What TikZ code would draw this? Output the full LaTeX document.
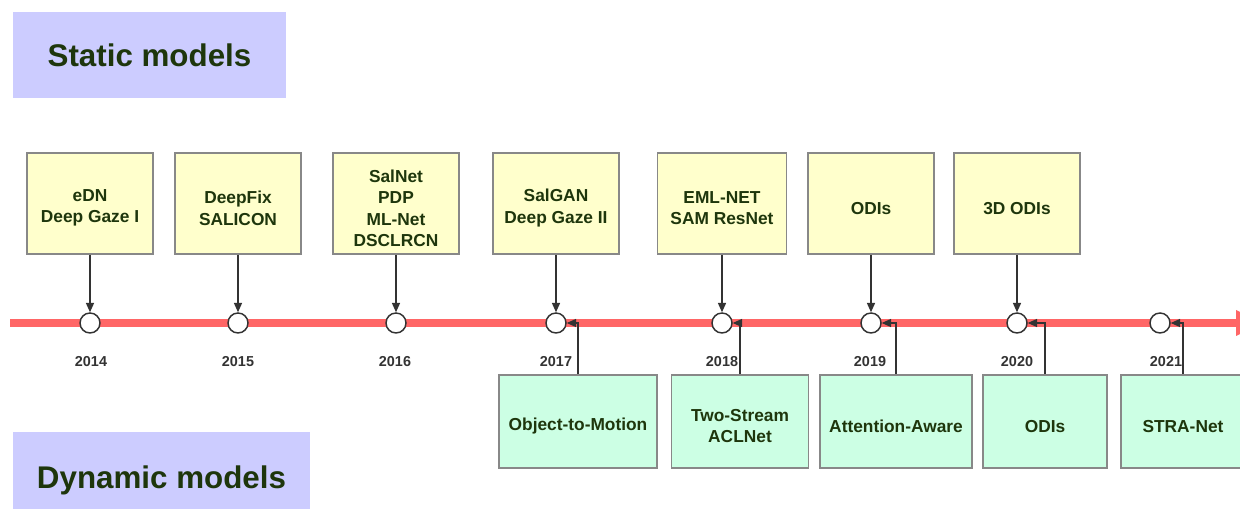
\documentclass[tikz,border=0pt]{standalone}
\usepackage{fontspec}
\setmainfont{Liberation Sans}
\usetikzlibrary{arrows.meta}
\definecolor{labelgreen}{RGB}{30,54,12}
\definecolor{staticfill}{RGB}{255,255,204}
\definecolor{dynfill}{RGB}{204,255,228}
\definecolor{headfill}{RGB}{204,204,255}
\definecolor{boxedge}{RGB}{136,136,136}
\definecolor{axisred}{RGB}{255,102,102}
\definecolor{yeargray}{RGB}{51,51,51}
\definecolor{linkgray}{RGB}{51,51,51}

\begin{document}
\begin{tikzpicture}[x=0.75pt,y=-0.75pt,
  heading/.style={fill=headfill, inner sep=0pt, text=labelgreen,
    font=\fontsize{23.5}{28}\selectfont\bfseries},
  boxtext/.style={align=center, yshift=-3.5pt, inner sep=0pt,
    text=labelgreen, font=\fontsize{13}{16}\selectfont\bfseries},
  staticbox/.style={draw=boxedge, line width=1.2pt, fill=staticfill,
    minimum width=94.5pt, minimum height=75.75pt, inner sep=0pt,
    label={[boxtext]center:#1}},
  dynbox/.style={staticbox=#1, fill=dynfill, minimum height=69.75pt},
  yearmark/.style={circle, draw=linkgray, line width=1.1pt, fill=white,
    minimum size=15pt, inner sep=0pt},
  yearlabel/.style={text=yeargray, font=\fontsize{10.8}{12}\selectfont\bfseries},
  link/.style={draw=linkgray, line width=1.1pt, -{Triangle[length=7pt,width=6pt]}}
]
\useasboundingbox (0,0) rectangle (1240,509);
\clip (0,0) rectangle (1240,509);

% headings
\node[heading, minimum width=204.75pt, minimum height=64.5pt] (hstatic) at (149.5,55) {Static models};
\node[heading, minimum width=222.75pt, minimum height=72pt] (hdynamic) at (161.5,480) {Dynamic models};

% time axis
\coordinate (axisstart) at (10,323);
\coordinate (axisend) at (1238,323);
\draw[axisred, line width=6pt] (axisstart) -- (axisend);
\fill[axisred] (1236,310) -- (1236,336) -- (1262,323) -- cycle;

% year marks
\foreach \n/\x in {1/90, 2/238, 3/396, 4/556, 5/722, 6/871, 7/1017, 8/1160}
  \node[yearmark] (c\n) at (\x,323) {};

% year labels
\foreach \n/\x/\yr in {1/91/2014, 2/238/2015, 3/395/2016, 4/556/2017,
                       5/722/2018, 6/870/2019, 7/1017/2020, 8/1166/2021}
  \node[yearlabel] (y\n) at (\x,362) {\yr};

% static models
\node[staticbox={eDN\\Deep Gaze I}] (s1) at (90,203.5) {};
\node[staticbox={DeepFix\\SALICON}] (s2) at (238,203.5) {};
\node[staticbox={SalNet\\PDP\\ML-Net\\DSCLRCN}] (s3) at (396,203.5) {};
\node[staticbox={SalGAN\\Deep Gaze II}] (s4) at (556,203.5) {};
\node[staticbox={EML-NET\\SAM ResNet}, minimum width=96.75pt] (s5) at (722,203.5) {};
\node[staticbox={ODIs}] (s6) at (871,203.5) {};
\node[staticbox={3D ODIs}] (s7) at (1017,203.5) {};

\foreach \n in {1,...,7}
  \draw[link] (s\n.south) -- (c\n.north);

% dynamic models
\node[dynbox={Object-to-Motion}, minimum width=118.5pt] (d1) at (578,421.5) {};
\node[dynbox={Two-Stream\\ACLNet}, minimum width=102.75pt] (d2) at (740,421.5) {};
\node[dynbox={Attention-Aware}, minimum width=114pt] (d3) at (896,421.5) {};
\node[dynbox={ODIs}, minimum width=93pt] (d4) at (1045,421.5) {};
\node[dynbox={STRA-Net}, minimum width=93pt] (d5) at (1183,421.5) {};

\draw[link] (d1.north) |- (c4.east);
\draw[link] (d2.north) |- (c5.east);
\draw[link] (d3.north) |- (c6.east);
\draw[link] (d4.north) |- (c7.east);
\draw[link] (d5.north) |- (c8.east);
\end{tikzpicture}
\end{document}
